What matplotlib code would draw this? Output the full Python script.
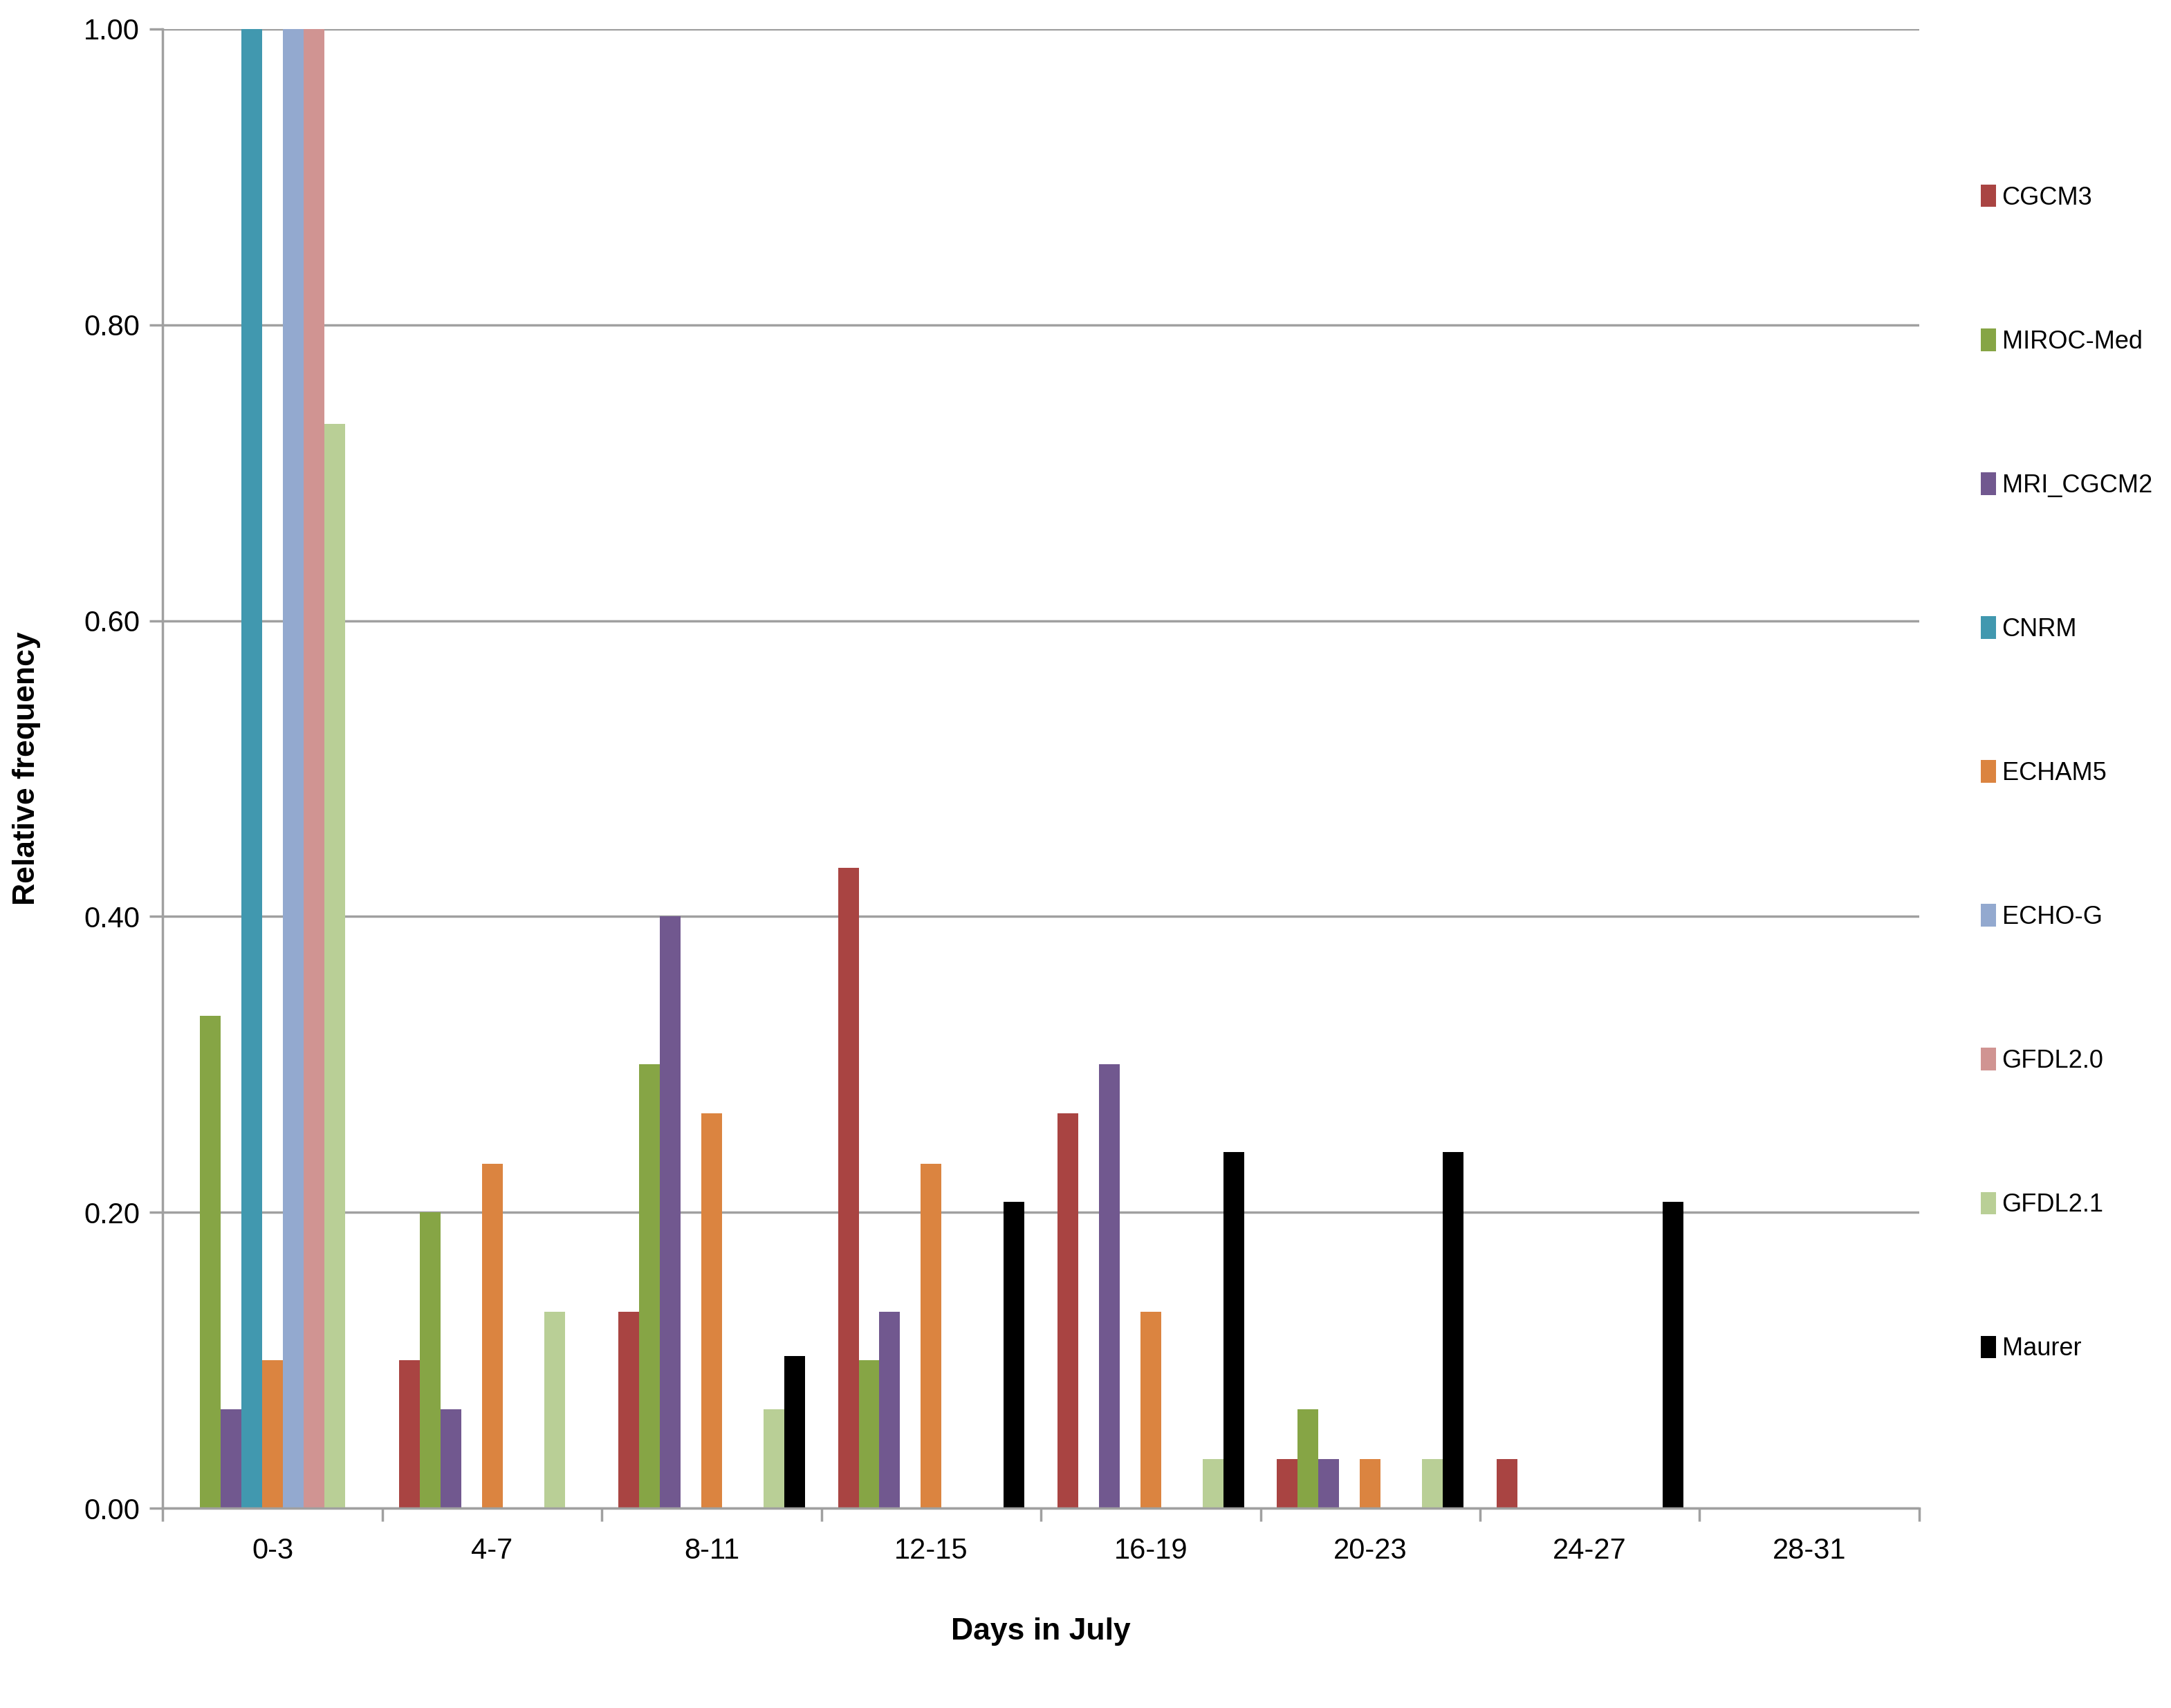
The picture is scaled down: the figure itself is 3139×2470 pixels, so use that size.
import matplotlib.pyplot as plt
import numpy as np

plt.rcParams['font.family'] = ['Liberation Sans', 'DejaVu Sans']

categories = ['0-3', '4-7', '8-11', '12-15', '16-19', '20-23', '24-27', '28-31']
models = ['CGCM3', 'MIROC-Med', 'MRI_CGCM2', 'CNRM', 'ECHAM5', 'ECHO-G', 'GFDL2.0', 'GFDL2.1', 'Maurer']
values = {
    'CGCM3':     [0.0, 0.10, 0.133, 0.433, 0.267, 0.033, 0.033, 0.0],
    'MIROC-Med': [0.333, 0.20, 0.30, 0.10, 0.0, 0.067, 0.0, 0.0],
    'MRI_CGCM2': [0.067, 0.067, 0.40, 0.133, 0.30, 0.033, 0.0, 0.0],
    'CNRM':      [1.0, 0, 0, 0, 0, 0, 0, 0],
    'ECHAM5':    [0.10, 0.233, 0.267, 0.233, 0.133, 0.033, 0.0, 0.0],
    'ECHO-G':    [1.0, 0, 0, 0, 0, 0, 0, 0],
    'GFDL2.0':   [1.0, 0, 0, 0, 0, 0, 0, 0],
    'GFDL2.1':   [0.733, 0.133, 0.067, 0.0, 0.033, 0.033, 0.0, 0.0],
    'Maurer':    [0.0, 0.0, 0.103, 0.207, 0.241, 0.241, 0.207, 0.0],
}
colors = ['#a94442', '#86a545', '#71588f', '#4198af', '#db8440', '#93a9cf', '#d09492', '#b9cf96', '#000000']

fig = plt.figure(figsize=(31.39, 24.70), dpi=100)
ax = fig.add_axes([0.075, 0.117, 0.809, 0.866])

x = np.arange(len(categories))
w = 0.85 / len(models)
for i, m in enumerate(models):
    ax.bar(x + (i - 4) * w, values[m], width=w, color=colors[i], label=m)

ax.set_xlim(-0.5, len(categories) - 0.5)
ax.set_ylim(0, 1.0)
ax.set_yticks(np.arange(0, 1.01, 0.2))
ax.set_yticklabels(['%.2f' % v for v in np.arange(0, 1.01, 0.2)], fontsize=30)
ax.yaxis.grid(True, color='#a0a0a0', linewidth=2.5)
ax.set_axisbelow(True)
ax.set_xticks(x)
ax.set_xticklabels(categories, fontsize=30)
ax.set_xticks(np.arange(-0.5, len(categories)), minor=True)
ax.tick_params(axis='x', which='major', length=0, pad=30)
ax.tick_params(axis='x', which='minor', length=14, width=2.5, color='#a0a0a0')
ax.tick_params(axis='y', length=14, width=2.5, color='#a0a0a0', pad=10)
for s in ['top', 'right']:
    ax.spines[s].set_visible(False)
for s in ['left', 'bottom']:
    ax.spines[s].set_color('#a0a0a0')
    ax.spines[s].set_linewidth(2.5)

ax.set_xlabel('Days in July', fontsize=32, fontweight='bold', labelpad=55)
ax.set_ylabel('Relative frequency', fontsize=32, fontweight='bold', labelpad=45)

fig.legend(loc='upper left', bbox_to_anchor=(0.902, 0.905), frameon=False, fontsize=26,
           handlelength=0.6, handleheight=1.0, handletextpad=0.25, labelspacing=4.75)

fig.savefig('out.png')
